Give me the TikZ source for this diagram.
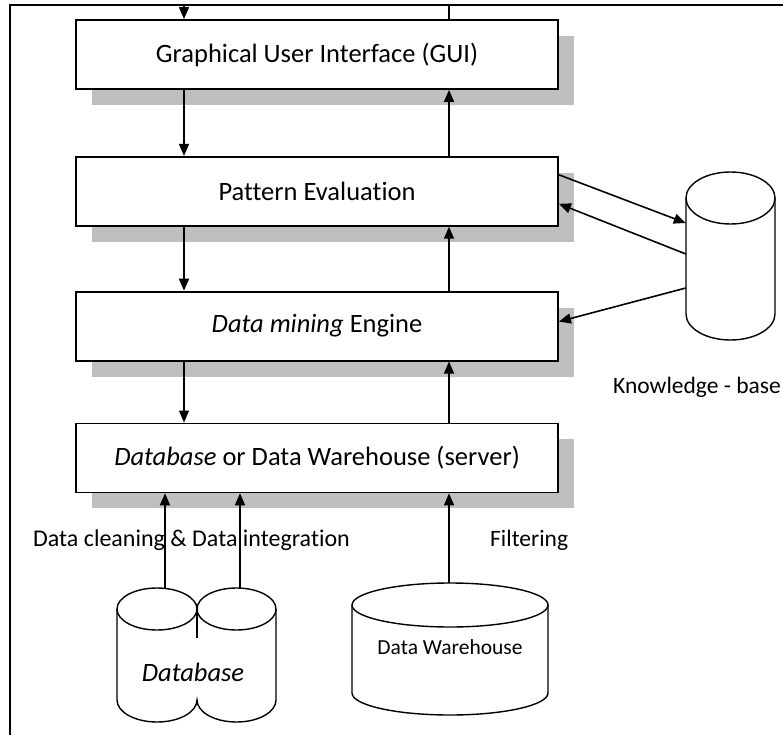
\documentclass[tikz,border=0pt]{standalone}
\usepackage{fontspec}
\setmainfont{Carlito}[Ligatures=NoCommon]
\usetikzlibrary{arrows.meta, positioning, shadows}

\begin{document}
\begin{tikzpicture}[
    x=1pt, y=-1pt,
    layer/.style={rectangle, draw=black, fill=white, line width=1.8pt, minimum width=482pt, minimum height=69pt, font=\fontsize{26.5}{30}\selectfont, drop shadow={shadow xshift=16pt, shadow yshift=-16pt, fill=black!25, opacity=1}},
    store/.style={rectangle, draw=none, inner sep=0pt},
    drum/.style={line width=1.4pt},
    arrow/.style={-{Triangle[length=12pt, width=10pt]}, line width=1.6pt},
    plain/.style={line width=1.6pt},
    lbl/.style={font=\fontsize{23.5}{28}\selectfont, inner sep=0pt}
]
\useasboundingbox (0,0) rectangle (783,735);

% Frame
\coordinate (edge) at (0,5);
\draw[line width=2.5pt] (10,735) -- (10,5) -- (783,5);

% Layers
\node[layer] (gui) at (317,54.5) {Graphical User Interface (GUI)};
\node[layer, below=66pt of gui] (pat) {Pattern Evaluation};
\node[layer, below=64pt of pat] (dm) {\textit{Data mining} Engine};
\node[layer, below=61pt of dm] (db) {\textit{Database} or Data Warehouse (server)};

% Knowledge base
\node[store, minimum width=89pt, minimum height=168pt] (kb) at (730.5,256) {};
\draw[drum] (686,198) -- (686,314) arc[start angle=180, end angle=0, x radius=44.5, y radius=26] -- (775,198);
\draw[drum] (730.5,198) ellipse[x radius=44.5, y radius=26];
\node[lbl] (kblabel) at (697,387) {Knowledge - base};

% Databases
\node[store, minimum width=159pt, minimum height=134pt] (dbs) at (196.5,655) {};
\draw[drum] (117,609) -- (117,700) arc[start angle=180, end angle=0, x radius=40, y radius=22] arc[start angle=180, end angle=0, x radius=39.5, y radius=22] -- (276,609);
\draw[drum] (157,609) ellipse[x radius=40, y radius=21];
\draw[drum] (236.5,609) ellipse[x radius=39.5, y radius=21];
\draw[drum] (197,609) -- (197,638);
\node[lbl, font=\fontsize{26.5}{30}\selectfont\itshape] (dbtext) at (193,672) {Database};

% Data warehouse
\node[store, minimum width=196pt, minimum height=132pt] (dw) at (450,649) {};
\draw[drum] (352,605) -- (352,693) arc[start angle=180, end angle=0, x radius=98, y radius=22] -- (548,605);
\draw[drum] (450,605) ellipse[x radius=98, y radius=22];
\node[lbl, font=\fontsize{21.5}{26}\selectfont] (dwtext) at (450,647) {Data Warehouse};

% Labels
\node[lbl, font=\fontsize{24}{28}\selectfont, anchor=west] (clean) at (33,540) {Data cleaning \& Data integration};
\node[lbl, anchor=west] (filter) at (490,540) {Filtering};

% Arrows
\coordinate (dn) at (184,0);
\coordinate (up) at (449,0);
\coordinate (c1) at (165,0);
\coordinate (c2) at (240,0);

\draw[arrow] (edge -| dn) -- (gui.north -| dn);
\draw[plain] (gui.north -| up) -- (edge -| up);
\draw[arrow] (gui.south -| dn) -- (pat.north -| dn);
\draw[arrow] (pat.north -| up) -- (gui.south -| up);
\draw[arrow] (pat.south -| dn) -- (dm.north -| dn);
\draw[arrow] (dm.north -| up) -- (pat.south -| up);
\draw[arrow] (dm.south -| dn) -- (db.north -| dn);
\draw[arrow] (db.north -| up) -- (dm.south -| up);

\draw[arrow] ([yshift=16.5pt]pat.east) -- ([yshift=33pt]kb.west);
\draw[arrow] ([yshift=2pt]kb.west) -- ([yshift=-12.5pt]pat.east);
\draw[arrow] ([yshift=-32pt]kb.west) -- ([yshift=4.5pt]dm.east);

\draw[arrow] (dbs.north -| c1) -- (db.south -| c1);
\draw[arrow] (dbs.north -| c2) -- (db.south -| c2);
\draw[arrow] (dw.north -| up) -- (db.south -| up);

\end{tikzpicture}
\end{document}
